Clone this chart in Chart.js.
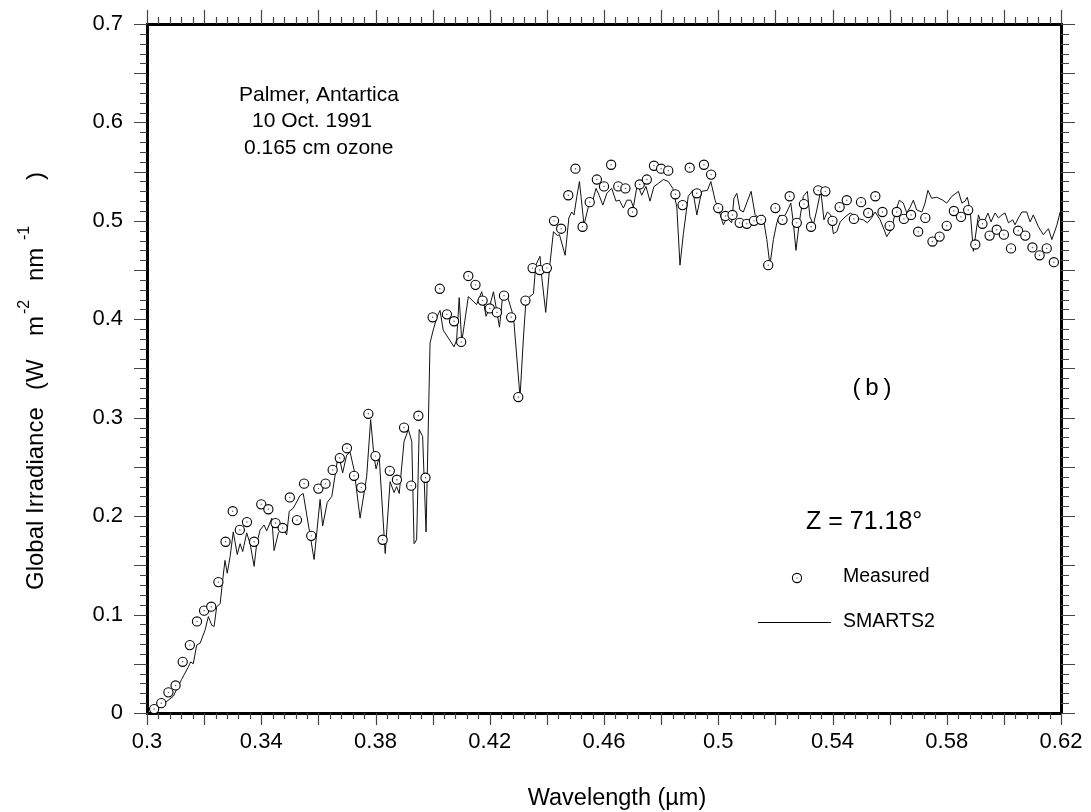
<!DOCTYPE html>
<html>
<head>
<meta charset="utf-8">
<title>Global irradiance, Palmer</title>
<script src="https://cdn.jsdelivr.net/npm/chart.js@4.4.1/dist/chart.umd.min.js"></script>
<style>
  body { margin: 0; background: #fff; }
  #wrap { width: 1091px; height: 812px; }
</style>
</head>
<body>
<div id="wrap"><canvas id="spectrumChart"></canvas></div>
<script>
// Measured spectrum (wavelength in um, irradiance in W m-2 nm-1)
const measuredWl = [
  0.3025, 0.3050, 0.3075, 0.3100, 0.3125, 0.3150, 0.3175, 0.3200, 0.3225, 0.3250,
  0.3275, 0.3300, 0.3325, 0.3350, 0.3375, 0.3400, 0.3425, 0.3450, 0.3475, 0.3500,
  0.3525, 0.3550, 0.3575, 0.3600, 0.3625, 0.3650, 0.3675, 0.3700, 0.3725, 0.3750,
  0.3775, 0.3800, 0.3825, 0.3850, 0.3875, 0.3900, 0.3925, 0.3950, 0.3975, 0.4000,
  0.4025, 0.4050, 0.4075, 0.4100, 0.4125, 0.4150, 0.4175, 0.4200, 0.4225, 0.4250,
  0.4275, 0.4300, 0.4325, 0.4350, 0.4375, 0.4400, 0.4425, 0.4450, 0.4475, 0.4500,
  0.4525, 0.4550, 0.4575, 0.4600, 0.4625, 0.4650, 0.4675, 0.4700, 0.4725, 0.4750,
  0.4775, 0.4800, 0.4825, 0.4850, 0.4875, 0.4900, 0.4925, 0.4950, 0.4975, 0.5000,
  0.5025, 0.5050, 0.5075, 0.5100, 0.5125, 0.5150, 0.5175, 0.5200, 0.5225, 0.5250,
  0.5275, 0.5300, 0.5325, 0.5350, 0.5375, 0.5400, 0.5425, 0.5450, 0.5475, 0.5500,
  0.5525, 0.5550, 0.5575, 0.5600, 0.5625, 0.5650, 0.5675, 0.5700, 0.5725, 0.5750,
  0.5775, 0.5800, 0.5825, 0.5850, 0.5875, 0.5900, 0.5925, 0.5950, 0.5975, 0.6000,
  0.6025, 0.6050, 0.6075, 0.6100, 0.6125, 0.6150, 0.6175
];
const measuredIrr = [
  0.004, 0.010, 0.021, 0.028, 0.052, 0.069, 0.093, 0.104, 0.108, 0.133,
  0.174, 0.205, 0.186, 0.194, 0.174, 0.212, 0.207, 0.193, 0.188, 0.219,
  0.196, 0.233, 0.180, 0.228, 0.233, 0.247, 0.259, 0.269, 0.241, 0.229,
  0.304, 0.261, 0.176, 0.246, 0.237, 0.290, 0.231, 0.302, 0.239, 0.402,
  0.431, 0.405, 0.398, 0.377, 0.444, 0.435, 0.419, 0.411, 0.407, 0.424,
  0.402, 0.321, 0.419, 0.452, 0.450, 0.452, 0.500, 0.492, 0.526, 0.553,
  0.494, 0.519, 0.542, 0.535, 0.557, 0.535, 0.533, 0.509, 0.537, 0.542,
  0.556, 0.553, 0.551, 0.527, 0.516, 0.554, 0.528, 0.557, 0.547, 0.513,
  0.505, 0.506, 0.498, 0.497, 0.500, 0.501, 0.455, 0.513, 0.501, 0.525,
  0.498, 0.517, 0.494, 0.531, 0.530, 0.500, 0.514, 0.521, 0.502, 0.519,
  0.508, 0.525, 0.509, 0.495, 0.509, 0.502, 0.506, 0.489, 0.503, 0.479,
  0.484, 0.495, 0.510, 0.504, 0.511, 0.476, 0.497, 0.485, 0.491, 0.486,
  0.472, 0.490, 0.485, 0.473, 0.465, 0.472, 0.458
];

// SMARTS2 model spectrum
const smartsWl = [
  0.3011, 0.3022, 0.3057, 0.3092, 0.3121, 0.3145, 0.3153, 0.3162, 0.3174, 0.3186,
  0.3203, 0.3215, 0.3227, 0.3235, 0.3244, 0.3256, 0.3265, 0.3273, 0.3281, 0.3291,
  0.3302, 0.3316, 0.3326, 0.3335, 0.3349, 0.3361, 0.3375, 0.3384, 0.3396, 0.3410,
  0.3419, 0.3437, 0.3445, 0.3460, 0.3477, 0.3489, 0.3498, 0.3512, 0.3536, 0.3547,
  0.3585, 0.3606, 0.3615, 0.3631, 0.3647, 0.3662, 0.3670, 0.3685, 0.3699, 0.3711,
  0.3725, 0.3746, 0.3769, 0.3783, 0.3795, 0.3802, 0.3813, 0.3834, 0.3851, 0.3865,
  0.3874, 0.3883, 0.3900, 0.3915, 0.3927, 0.3935, 0.3944, 0.3953, 0.3965, 0.3977,
  0.3991, 0.4002, 0.4016, 0.4026, 0.4037, 0.4055, 0.4075, 0.4084, 0.4093, 0.4102,
  0.4113, 0.4125, 0.4154, 0.4172, 0.4187, 0.4196, 0.4213, 0.4234, 0.4245, 0.4259,
  0.4283, 0.4306, 0.4318, 0.4327, 0.4353, 0.4361, 0.4376, 0.4382, 0.4396, 0.4411,
  0.4423, 0.4437, 0.4444, 0.4464, 0.4477, 0.4487, 0.4495, 0.4505, 0.4514, 0.4530,
  0.4545, 0.4561, 0.4572, 0.4583, 0.4596, 0.4610, 0.4627, 0.4642, 0.4654, 0.4668,
  0.4680, 0.4694, 0.4703, 0.4717, 0.4732, 0.4747, 0.4761, 0.4775, 0.4790, 0.4808,
  0.4825, 0.4841, 0.4855, 0.4866, 0.4878, 0.4895, 0.4911, 0.4925, 0.4942, 0.4962,
  0.4974, 0.4989, 0.5004, 0.5018, 0.5030, 0.5047, 0.5055, 0.5065, 0.5076, 0.5088,
  0.5102, 0.5115, 0.5129, 0.5140, 0.5156, 0.5170, 0.5181, 0.5193, 0.5205, 0.5216,
  0.5228, 0.5240, 0.5254, 0.5263, 0.5272, 0.5284, 0.5298, 0.5312, 0.5321, 0.5333,
  0.5345, 0.5359, 0.5370, 0.5382, 0.5394, 0.5403, 0.5415, 0.5427, 0.5444, 0.5462,
  0.5479, 0.5494, 0.5508, 0.5522, 0.5537, 0.5549, 0.5567, 0.5590, 0.5608, 0.5619,
  0.5634, 0.5648, 0.5660, 0.5672, 0.5683, 0.5695, 0.5713, 0.5724, 0.5734, 0.5747,
  0.5765, 0.5786, 0.5800, 0.5818, 0.5841, 0.5853, 0.5864, 0.5872, 0.5882, 0.5893,
  0.5911, 0.5923, 0.5934, 0.5944, 0.5955, 0.5969, 0.5981, 0.5993, 0.6004, 0.6016,
  0.6031, 0.6039, 0.6051, 0.6063, 0.6080, 0.6092, 0.6103, 0.6121, 0.6138, 0.6156,
  0.6168, 0.6186, 0.6197
];
const smartsIrr = [
  0.002, 0.003, 0.009, 0.017, 0.034, 0.047, 0.052, 0.050, 0.069, 0.071,
  0.084, 0.098, 0.089, 0.088, 0.108, 0.111, 0.135, 0.155, 0.142, 0.159,
  0.184, 0.161, 0.172, 0.164, 0.183, 0.172, 0.149, 0.172, 0.186, 0.191,
  0.185, 0.198, 0.165, 0.183, 0.188, 0.181, 0.205, 0.208, 0.221, 0.223,
  0.156, 0.217, 0.190, 0.214, 0.220, 0.248, 0.264, 0.244, 0.262, 0.265,
  0.247, 0.198, 0.240, 0.298, 0.260, 0.248, 0.260, 0.162, 0.235, 0.224,
  0.230, 0.223, 0.276, 0.288, 0.276, 0.172, 0.176, 0.288, 0.281, 0.184,
  0.376, 0.389, 0.403, 0.409, 0.389, 0.381, 0.372, 0.379, 0.422, 0.377,
  0.399, 0.423, 0.415, 0.428, 0.403, 0.409, 0.428, 0.392, 0.423, 0.426,
  0.403, 0.321, 0.382, 0.420, 0.426, 0.455, 0.464, 0.443, 0.407, 0.457,
  0.489, 0.485, 0.486, 0.465, 0.503, 0.509, 0.506, 0.525, 0.540, 0.496,
  0.514, 0.521, 0.533, 0.526, 0.516, 0.528, 0.533, 0.520, 0.521, 0.513,
  0.521, 0.521, 0.514, 0.538, 0.526, 0.535, 0.520, 0.535, 0.538, 0.542,
  0.540, 0.533, 0.514, 0.455, 0.487, 0.525, 0.531, 0.506, 0.530, 0.531,
  0.540, 0.521, 0.509, 0.496, 0.503, 0.498, 0.523, 0.528, 0.511, 0.509,
  0.520, 0.530, 0.506, 0.504, 0.506, 0.481, 0.455, 0.481, 0.498, 0.506,
  0.503, 0.509, 0.518, 0.498, 0.470, 0.499, 0.525, 0.530, 0.504, 0.496,
  0.511, 0.531, 0.501, 0.509, 0.506, 0.487, 0.489, 0.499, 0.504, 0.508,
  0.505, 0.502, 0.501, 0.498, 0.503, 0.509, 0.501, 0.484, 0.492, 0.508,
  0.521, 0.518, 0.508, 0.514, 0.521, 0.511, 0.509, 0.518, 0.531, 0.523,
  0.524, 0.521, 0.518, 0.525, 0.530, 0.518, 0.520, 0.524, 0.511, 0.469,
  0.506, 0.496, 0.501, 0.508, 0.499, 0.508, 0.503, 0.506, 0.508, 0.498,
  0.501, 0.496, 0.503, 0.509, 0.509, 0.499, 0.506, 0.494, 0.486, 0.492,
  0.481, 0.496, 0.509
];

// tick labels
const xTickLabels = [0.3, 0.34, 0.38, 0.42, 0.46, 0.5, 0.54, 0.58, 0.62];
const yTickLabels = [0, 0.1, 0.2, 0.3, 0.4, 0.5, 0.6, 0.7];

const FONT = "'Liberation Sans', Arial, sans-serif";

function toPoints(xs, ys) {
  return xs.map((x, i) => ({ x: x, y: ys[i] }));
}

// y title with superscripts, drawn rotated; each piece starts at its own height
function drawYTitle(ctx) {
  const big = '24px ' + FONT;
  const small = '16px ' + FONT;
  const parts = [
    ['Global Irradiance', big, 590, 0],
    ['(W', big, 390, 0],
    ['m', big, 336, 0],
    ['-2', small, 314, -11],
    ['nm', big, 281, 0],
    ['-1', small, 240, -11],
    [')', big, 180, 0]
  ];
  ctx.save();
  ctx.fillStyle = '#000';
  ctx.textBaseline = 'middle';
  ctx.textAlign = 'left';
  parts.forEach(p => {
    ctx.save();
    ctx.translate(36, p[2]);
    ctx.rotate(-Math.PI / 2);
    ctx.font = p[1];
    ctx.fillText(p[0], 0, p[3]);
    ctx.restore();
  });
  ctx.restore();
}

// tick marks on all four sides, notes and legend
const framePlugin = {
  id: 'framePlugin',
  afterDraw(chart) {
    const ctx = chart.ctx;
    const a = chart.chartArea;
    const xs = chart.scales.x;
    const ys = chart.scales.y;

    ctx.save();
    ctx.strokeStyle = '#444';
    ctx.lineWidth = 1.2;
    ctx.beginPath();
    for (let i = 0; i <= 80; i++) {
      const px = Math.round(xs.getPixelForValue(0.3 + i * 0.004)) + 0.5;
      const major = i % 5 === 0;
      ctx.moveTo(px, a.bottom);
      ctx.lineTo(px, a.bottom + (major ? 12 : 6));
      ctx.moveTo(px, a.top);
      ctx.lineTo(px, a.top - (major ? 14 : 7));
    }
    for (let i = 0; i <= 70; i++) {
      const py = Math.round(ys.getPixelForValue(i * 0.01)) + 0.5;
      const major = i % 5 === 0;
      ctx.moveTo(a.left, py);
      ctx.lineTo(a.left - (major ? 13 : 7), py);
      ctx.moveTo(a.right, py);
      ctx.lineTo(a.right + (major ? 14 : 8), py);
    }
    ctx.stroke();

    ctx.fillStyle = '#000';
    ctx.textBaseline = 'middle';

    // axis titles
    ctx.font = '23.5px ' + FONT;
    ctx.textAlign = 'center';
    ctx.fillText('Wavelength (\u00b5m)', 617, 799);
    drawYTitle(ctx);

    // notes
    ctx.textAlign = 'left';
    ctx.font = '21px ' + FONT;
    ctx.fillText('Palmer, Antartica', 239, 95);
    ctx.fillText('10 Oct. 1991', 252, 121);
    ctx.fillText('0.165 cm ozone', 244, 148);

    ctx.font = '24px ' + FONT;
    ctx.textAlign = 'center';
    ctx.fillText('(\u2009b\u2009)', 872, 388);
    ctx.textAlign = 'left';
    ctx.font = '25px ' + FONT;
    ctx.fillText('Z = 71.18\u00b0', 806, 522);

    // legend
    ctx.font = '19.5px ' + FONT;
    ctx.fillText('Measured', 843, 577);
    ctx.fillText('SMARTS2', 843, 622);
    ctx.lineWidth = 1.1;
    ctx.strokeStyle = '#000';
    ctx.beginPath();
    ctx.arc(797, 578, 4.6, 0, Math.PI * 2);
    ctx.stroke();
    ctx.fillStyle = '#555';
    ctx.fillRect(796.5, 577.5, 1, 1);
    ctx.beginPath();
    ctx.moveTo(758, 622.5);
    ctx.lineTo(831, 622.5);
    ctx.stroke();
    ctx.restore();
  }
};

// keep label overhang from shrinking the plot box
function noPad(s) {
  s.paddingLeft = 0; s.paddingRight = 0; s.paddingTop = 0; s.paddingBottom = 0;
}

const ctx = document.getElementById('spectrumChart').getContext('2d');
window.myChart = new Chart(ctx, {
  type: 'scatter',
  data: {
    datasets: [{
      label: 'Measured',
      data: toPoints(measuredWl, measuredIrr),
      showLine: false,
      pointStyle: 'circle',
      pointRadius: 4.6,
      borderWidth: 1.1,
      borderColor: '#000',
      backgroundColor: '#fff',
      clip: false,
      order: 2
    }, {
      label: 'centre dots',
      data: toPoints(measuredWl, measuredIrr),
      showLine: false,
      pointRadius: 0.7,
      borderWidth: 0,
      backgroundColor: '#555',
      clip: false,
      order: 1
    }, {
      label: 'SMARTS2',
      data: toPoints(smartsWl, smartsIrr),
      showLine: true,
      pointRadius: 0,
      borderWidth: 1,
      borderColor: '#111',
      tension: 0,
      order: 3
    }]
  },
  options: {
    responsive: true,
    maintainAspectRatio: false,
    devicePixelRatio: 1,
    animation: false,
    events: [],
    layout: { padding: 0 },
    plugins: {
      legend: { display: false },
      tooltip: { enabled: false }
    },
    scales: {
      x: {
        type: 'linear',
        position: 'bottom',
        min: 0.3,
        max: 0.62,
        afterBuildTicks: s => { s.ticks = xTickLabels.map(v => ({ value: v })); },
        afterFit: s => { s.height = 99; noPad(s); },
        grid: { display: false, drawTicks: false },
        border: { display: true, color: '#000', width: 3 },
        ticks: {
          autoSkip: false,
          maxRotation: 0,
          padding: 16,
          color: '#000',
          font: { family: FONT, size: 22 },
          callback: v => String(+v.toFixed(2))
        }
      },
      x2: {
        type: 'linear',
        position: 'top',
        min: 0.3,
        max: 0.62,
        afterFit: s => { s.height = 24; noPad(s); },
        grid: { display: false, drawTicks: false },
        border: { display: true, color: '#000', width: 3 },
        ticks: { display: false }
      },
      y: {
        type: 'linear',
        position: 'left',
        min: 0,
        max: 0.7,
        afterBuildTicks: s => { s.ticks = yTickLabels.map(v => ({ value: v })); },
        afterFit: s => { s.width = 147; noPad(s); },
        grid: { display: false, drawTicks: false },
        border: { display: true, color: '#000', width: 3 },
        ticks: {
          padding: 24,
          color: '#000',
          font: { family: FONT, size: 22 },
          callback: v => String(+v.toFixed(1))
        }
      },
      y2: {
        type: 'linear',
        position: 'right',
        min: 0,
        max: 0.7,
        afterFit: s => { s.width = 30; noPad(s); },
        grid: { display: false, drawTicks: false },
        border: { display: true, color: '#000', width: 3 },
        ticks: { display: false }
      }
    }
  },
  plugins: [framePlugin]
});
</script>
</body>
</html>
